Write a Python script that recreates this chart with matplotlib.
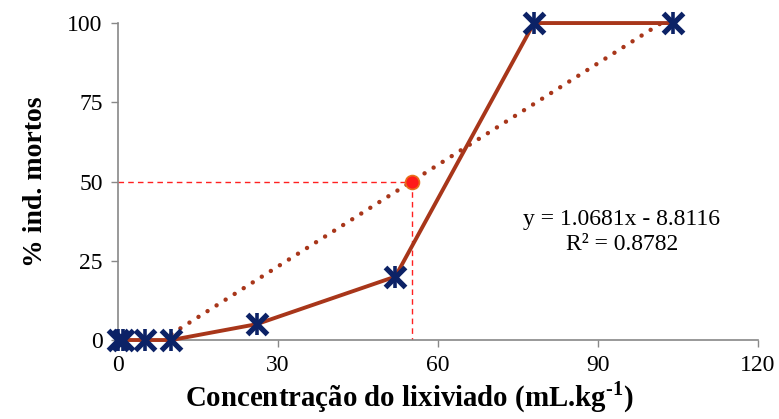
import numpy as np
import matplotlib
matplotlib.use('Agg')
import matplotlib.pyplot as plt

plt.rcParams['font.family'] = ['Liberation Serif', 'DejaVu Serif']
plt.rcParams['mathtext.fontset'] = 'custom'
plt.rcParams['mathtext.rm'] = 'Liberation Serif'
plt.rcParams['mathtext.bf'] = 'Liberation Serif:bold'

concentracao = [0, 1, 5, 10, 26, 52, 78, 104]
mortos = [0, 0, 0, 0, 5, 20, 100, 100]
a, b = 1.0681, -8.8116
trend_x = [10, 104]
cl50 = (50 - b) / a

fig = plt.figure(figsize=(7.79, 4.19), dpi=100)
ax = fig.add_axes([0.1515, 0.1885, 0.8215, 0.7565])

# linha de tendencia (pontilhada)
tx = np.array(trend_x, dtype=float)
ax.plot(tx, a * tx + b, linestyle=(0, (0.01, 2.4)), color='#A8361A', lw=3.2,
        dash_capstyle='round', zorder=2)

# linhas de referencia CL50
ax.plot([0, cl50], [50, 50], color='#FF2020', lw=1, dashes=(4, 3), zorder=1)
ax.plot([cl50, cl50], [50, 0], color='#FF2020', lw=1, dashes=(4, 3), zorder=1)

ax.plot(concentracao, mortos, '-', color='#A8361A', lw=2.8, zorder=3, clip_on=False)
ax.plot(concentracao, mortos, 'x', color='#0C2266', ms=14, mew=3.8, zorder=4, clip_on=False)
ax.plot(concentracao, mortos, '|', color='#0C2266', ms=16, mew=2.6, zorder=4, clip_on=False)

ax.plot([cl50], [50], 'o', color='#FF1A1A', ms=10, mec='#E8701A', mew=1.2, zorder=5)

ax.text(94.5, 37.9, 'y = 1.0681x - 8.8116', fontsize=17, ha='center', va='center')
ax.text(94.5, 30.0, 'R² = 0.8782', fontsize=17, ha='center', va='center')

ax.set_xlim(0, 120)
ax.set_ylim(0, 100)
ax.set_xticks([0, 30, 60, 90, 120])
ax.set_yticks([0, 25, 50, 75, 100])
ax.tick_params(labelsize=17, length=5, width=1, color='#888888', direction='out', pad=6)
for s in ['top', 'right']:
    ax.spines[s].set_visible(False)
for s in ['left', 'bottom']:
    ax.spines[s].set_color('#888888')
    ax.spines[s].set_linewidth(1.2)

ax.set_xlabel('Concentração do lixiviado (mL.kg$^{\\mathbf{\u2010 1}}$)', fontsize=20.8,
              fontweight='bold', labelpad=2)
ax.xaxis.set_label_coords(0.455, -0.125)
ax.set_ylabel('% ind. mortos', fontsize=20, fontweight='bold', labelpad=14)

fig.savefig('out.png', dpi=100)
